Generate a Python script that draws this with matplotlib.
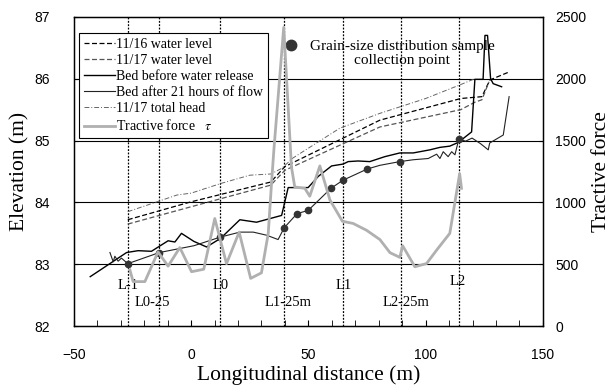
import matplotlib
matplotlib.use("Agg")
import matplotlib.pyplot as plt

plt.rcParams['font.family'] = ['Liberation Serif', 'DejaVu Serif']
plt.rcParams['mathtext.fontset'] = 'stix'

# Bed before water release (upper black line)
bed_before_x = [-43, -27.5, -22.6, -16.9, -9.8, -6.9, -4.1, 1.2, 6.6, 12.6, 20.8, 27.9, 38.6, 41.4,
                49.9, 54.2, 59.9, 64.8, 67, 71.2, 76.2, 82.6, 89, 94.7, 101.8, 106.1, 110.3, 113.9,
                119.6, 121, 124.5, 125.3, 126.4, 127.7, 128.8, 132.4]
bed_before_y = [82.80, 83.19, 83.22, 83.21, 83.38, 83.36, 83.50, 83.37, 83.28, 83.42, 83.72, 83.68, 83.79, 84.24,
                84.24, 84.42, 84.59, 84.62, 84.66, 84.67, 84.66, 84.74, 84.80, 84.80, 84.85, 84.89, 84.91, 84.97,
                85.14, 85.99, 85.99, 86.70, 86.70, 86.00, 85.92, 85.87]

# Bed after 21 hours of flow (line through the sample points)
bed_after_x = [-34.6, -33.2, -32.5, -31.1, -29.7, -27, -13.5, 1.2, 12.5, 20.8, 26.5, 32.2, 37.1, 39.7,
               45.2, 49.9, 59.7, 64.8, 75.1, 80.5, 89, 94.7, 101.1, 104.7, 106.1, 107.5, 109.6, 111.1,
               112.5, 114.2, 117, 119.8, 123.4, 126.7, 127.3, 133.1, 135.6]
bed_after_y = [83.19, 83.04, 83.13, 83.05, 83.10, 83.01, 83.19, 83.30, 83.44, 83.52, 83.52, 83.47, 83.40, 83.59,
               83.82, 83.87, 84.23, 84.36, 84.54, 84.60, 84.66, 84.69, 84.71, 84.78, 84.71, 84.82, 84.74, 84.82,
               84.77, 85.03, 84.99, 85.04, 84.95, 84.85, 84.96, 85.09, 85.71]

# Grain-size distribution sample collection points
sample_x = [-27, -13.5, 12.5, 39.7, 45.2, 49.9, 59.7, 64.8, 75.1, 89, 114.2]
sample_y = [83.01, 83.19, 83.44, 83.59, 83.82, 83.87, 84.23, 84.36, 84.54, 84.66, 85.03]

# Water levels and total head
wl16_x = [-27, 0, 34, 40, 80.5, 115, 124, 127.4, 135]
wl16_y = [83.72, 84.01, 84.33, 84.58, 85.33, 85.68, 85.71, 85.98, 86.10]
wl17_x = [-27, 0, 34, 40, 80.5, 115, 121, 124, 127]
wl17_y = [83.65, 83.93, 84.28, 84.52, 85.22, 85.50, 85.62, 85.66, 85.95]
head_x = [-27, -6, 0, 13, 25, 34, 38.6, 43.5, 63.4, 80.5, 100, 114.6, 121]
head_y = [83.85, 84.12, 84.15, 84.31, 84.44, 84.46, 84.55, 84.72, 85.20, 85.44, 85.68, 85.90, 86.00]

# Tractive force
tau_x = [-26.1, -24.7, -19.7, -14.1, -9.8, -4.8, 0.2, 5.4, 10.1, 15.1, 20.5, 25.4, 30, 32.9, 34.3, 35.3,
         39.5, 42.8, 44.2, 48.5, 50.6, 54.9, 59.2, 64.5, 69.1, 74.8, 80.5, 84.8, 89, 90.2, 95.4, 100.4,
         104.7, 110.3, 114.5, 115.3]
tau_y = [455, 360, 360, 600, 485, 635, 440, 460, 870, 505, 760, 386, 431, 750, 1155, 1425,
         2415, 1286, 1125, 1114, 1050, 1295, 1020, 848, 830, 775, 700, 594, 556, 650, 480, 506,
         615, 750, 1232, 1114]

# Cross-section lines and their labels
section_x = [-27.1, -13.8, 12.5, 39.7, 64.9, 89.3, 114.3]
section_names = ['L-1', 'L0-25', 'L0', 'L1-25m', 'L1', 'L2-25m', 'L2']
label_x = [-27, -16.5, 12.5, 41.5, 65.1, 91.6, 113.8]
label_y = [82.66, 82.39, 82.66, 82.39, 82.66, 82.39, 82.72]

fig = plt.figure(figsize=(6.1, 3.92), dpi=100)
ax = fig.add_axes([0.121, 0.168, 0.769, 0.789])
ax2 = ax.twinx()

for y in [83, 84, 85, 86]:
    ax.axhline(y, color='k', lw=0.8, zorder=1)
for x in section_x:
    ax.axvline(x, color='k', lw=0.9, ls=(0, (1.5, 1.2)), zorder=1)
for name, x, y in zip(section_names, label_x, label_y):
    ax.text(x, y, name, ha='center', va='center', fontsize=10.5)

l16, = ax.plot(wl16_x, wl16_y, color='k', lw=0.9, ls=(0, (4, 2)), label='11/16 water level')
l17, = ax.plot(wl17_x, wl17_y, color='#555555', lw=0.9, ls=(0, (4, 2)), label='11/17 water level')
lb1, = ax.plot(bed_before_x, bed_before_y, color='k', lw=1.0, label='Bed before water release')
lb2, = ax.plot(bed_after_x, bed_after_y, color='#222222', lw=0.8, label='Bed after 21 hours of flow')
lh, = ax.plot(head_x, head_y, color='#666666', lw=0.7, ls=(0, (5, 2, 1, 2)), label='11/17 total head')
ax.plot(sample_x, sample_y, 'o', color='#333333', ms=4.5, zorder=5)

lt, = ax2.plot(tau_x, tau_y, color='#b0b0b0', lw=2.0, label='Tractive force   $\\tau$')

ax.plot([42.8], [86.55], 'o', color='#333333', ms=7.5)
ax.text(89.9, 86.41, 'Grain-size distribution sample\ncollection point', ha='center', va='center',
        fontsize=11, linespacing=1.05)

ax.set_xlim(-50, 150)
ax.set_ylim(82, 87)
ax2.set_ylim(0, 2500)
ax.set_xticks([-50, 0, 50, 100, 150])
ax.set_xticks(range(-40, 150, 10), minor=True)
ax.set_yticks([82, 83, 84, 85, 86, 87])
ax2.set_yticks([0, 500, 1000, 1500, 2000, 2500])

ax.tick_params(axis='x', which='both', direction='in', length=4, pad=16, labelsize=10,
               labelfontfamily='Liberation Sans')
ax.tick_params(axis='y', direction='in', length=3, pad=17, labelsize=10,
               labelfontfamily='Liberation Sans')
ax2.tick_params(axis='y', direction='in', length=3, pad=9, labelsize=10,
                labelfontfamily='Liberation Sans')

ax.set_xlabel('Longitudinal distance (m)', fontsize=15.5, labelpad=2)
ax.set_ylabel('Elevation (m)', fontsize=15.5, labelpad=4)
ax2.set_ylabel('Tractive force', fontsize=15.5, labelpad=4)

for sp in ax.spines.values():
    sp.set_linewidth(1.0)

leg = ax2.legend(handles=[l16, l17, lb1, lb2, lh, lt], loc='upper left', bbox_to_anchor=(0.012, 0.947),
                 borderaxespad=0, fontsize=10, fancybox=False, framealpha=1, edgecolor='k',
                 handlelength=2.2, handletextpad=0.1, labelspacing=0.22, borderpad=0.35)
leg.get_frame().set_linewidth(0.8)

fig.savefig('out.png', dpi=100)
